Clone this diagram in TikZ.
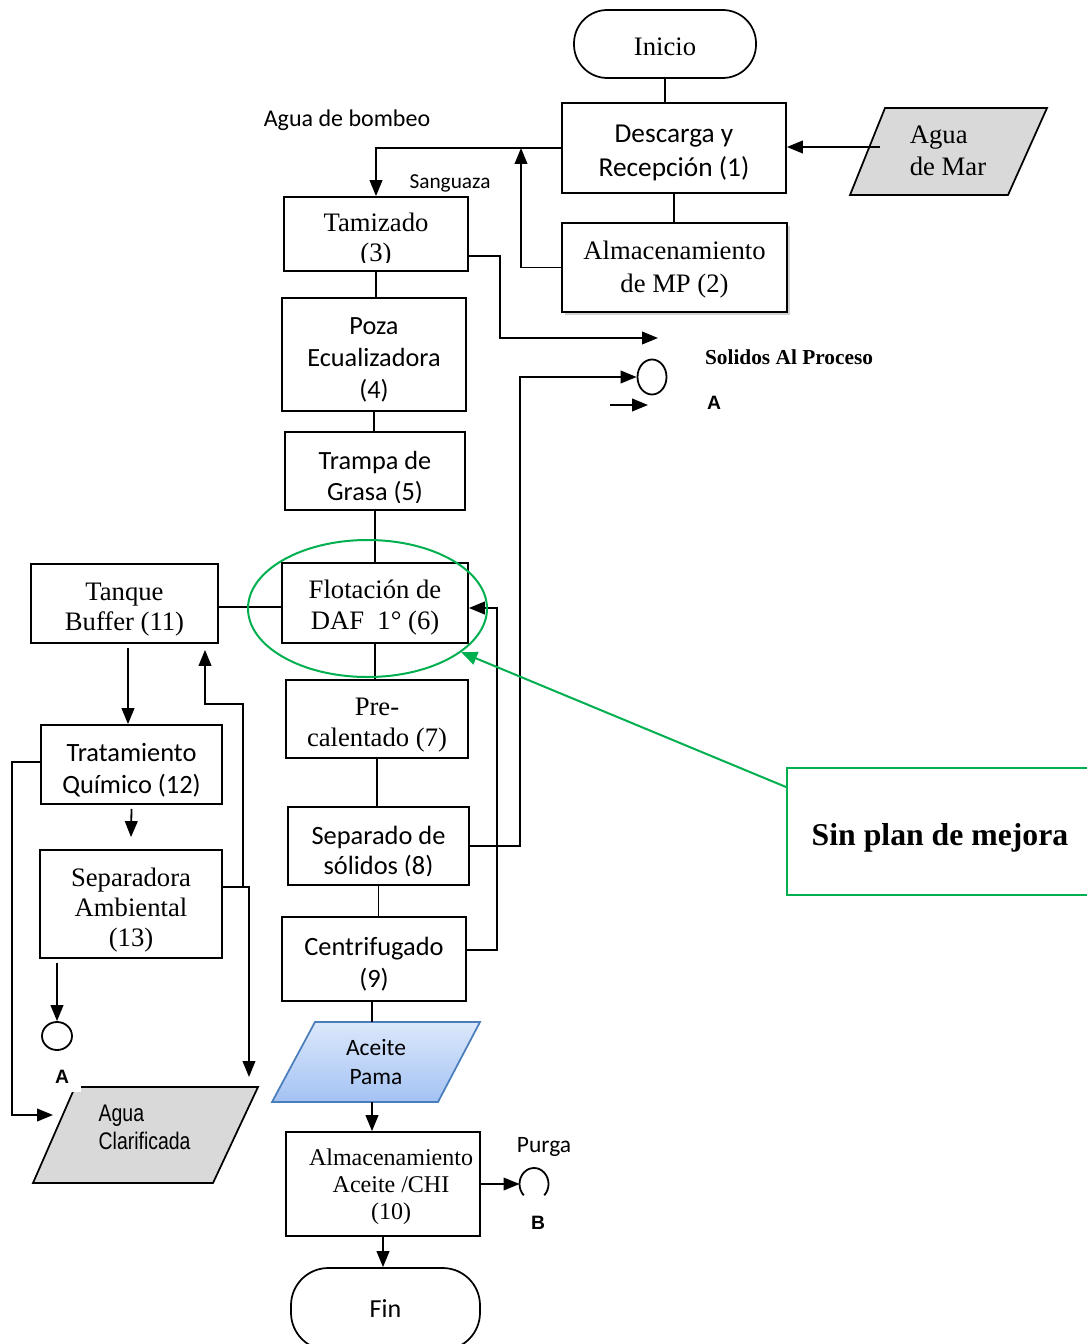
\documentclass[tikz,border=0pt]{standalone}
\usepackage{fontspec}
\setmainfont{Liberation Serif}
\newfontfamily\calfam{Carlito}
\newfontfamily\arifam{Liberation Sans}
\newfontfamily\narfam[FakeStretch=0.81]{Liberation Sans}
\usetikzlibrary{arrows.meta,shapes.geometric,calc,shadows}

\definecolor{grayfill}{HTML}{D9D9D9}
\definecolor{mkgreen}{HTML}{00B050}
\definecolor{pamaTop}{HTML}{DCE8FB}
\definecolor{pamaBot}{HTML}{A3C2F3}
\definecolor{pamaEdge}{HTML}{4A7EBB}

% invisible strut that lowers the text block inside its box
\newcommand{\lft}[1]{\rule{0pt}{#1}}

\tikzset{
  sz/.style 2 args={minimum width=#1*0.75pt, minimum height=#2*0.75pt},
  box/.style={draw, line width=1.3pt, inner sep=0pt, align=center},
  conn/.style={line width=1.35pt},
  arr/.style={conn, -{Triangle[length=12pt,width=9.5pt]}},
  lblA/.style={font={\arifam\bfseries\fontsize{14.5}{16}\selectfont}},
  greenln/.style={draw=mkgreen, line width=1.5pt}
}

\begin{document}
\begin{tikzpicture}[x=0.75pt,y=-0.75pt]
\fill[white] (0,0) rectangle (1086,1344);
\useasboundingbox (0,0) rectangle (1086,1344);

% ---------- main column ----------
\node[box,sz={182}{68},rounded corners=25pt,font={\fontsize{20}{23}\selectfont}] (inicio) at (665,44) {\lft{17.7pt}Inicio};
\node[box,sz={224}{90},font={\calfam\fontsize{20.5}{26}\selectfont}] (desc) at (674,148) {\lft{20.5pt}Descarga y\\Recepción (1)};
\node[box,sz={225}{89},font={\fontsize{20}{24.5}\selectfont},fill=white,
      drop shadow={shadow xshift=2pt,shadow yshift=-2pt,opacity=0.35}] (almmp) at (674.5,267.5) {\lft{16.6pt}Almacenamiento\\de MP (2)};

% sea water input
\path[draw, fill=grayfill, line width=1.3pt] (850,195) -- (885,108) -- (1047,108) -- (1008,195) -- cycle;
\node[align=left,font={\fontsize{20}{24}\selectfont}] (aguamar) at (948,151) {Agua\\de Mar};
\coordinate (amin) at (880,147);

\node[font={\calfam\fontsize{18}{20}\selectfont}] (bombeo) at (347,120) {Agua de bombeo};
\node[font={\calfam\fontsize{16}{18}\selectfont}] (sang) at (450,183) {Sanguaza};

\node[box,sz={184}{74},font={\fontsize{20}{22.5}\selectfont}] (tam) at (376,234) {\lft{23.3pt}Tamizado\\(3)};
\fill[white] ($(tam.south west)+(1.5,-1.5)$) rectangle ($(tam.south east)+(-1.5,-9)$);
\node[box,sz={184}{113},font={\calfam\fontsize{19.7}{24}\selectfont}] (poza) at (374,354.5) {\lft{20pt}Poza\\Ecualizadora\\(4)};
\node[box,sz={180}{78},font={\calfam\fontsize{19.7}{23.5}\selectfont}] (trampa) at (375,471) {\lft{23.5pt}Trampa de\\Grasa (5)};
\fill[white] ($(trampa.south west)+(1.5,-1.5)$) rectangle ($(trampa.south east)+(-1.5,-8)$);
\node[box,sz={186}{80},font={\fontsize{20}{23}\selectfont}] (flot) at (375,603) {\lft{21.1pt}Flotación de\\DAF\ \ 1° (6)};
\node[box,sz={182}{78},font={\fontsize{20}{23}\selectfont}] (pre) at (377,719) {\lft{22.2pt}Pre-\\calentado (7)};
\node[box,sz={181}{78},font={\calfam\fontsize{19.8}{23}\selectfont}] (sep) at (378.5,846) {\lft{22.8pt}Separado de\\sólidos (8)};
\fill[white] ($(sep.south west)+(1.5,-1.5)$) rectangle ($(sep.south east)+(-1.5,-10)$);
\node[box,sz={184}{84},font={\calfam\fontsize{19.8}{24.5}\selectfont}] (cent) at (374,959) {\lft{21.5pt}Centrifugado\\(9)};

% palm oil output
\path[draw=pamaEdge, top color=pamaTop, bottom color=pamaBot, line width=1.3pt]
  (315,1022) -- (480,1022) -- (438,1102) -- (272,1102) -- cycle;
\node[align=center,font={\calfam\fontsize{17.6}{21.5}\selectfont}] (aceite) at (376,1062) {Aceite\\Pama};
\coordinate (acTop) at (372,1022);
\coordinate (acBot) at (372,1102);

\node[box,sz={194}{104},font={\fontsize{18}{20.5}\selectfont}] (alm10) at (383,1184) {\lft{16.7pt}\hspace*{12pt}Almacenamiento\\\hspace*{12pt}Aceite /CHI\\\hspace*{12pt}(10)};
\node[box,sz={189}{82},rounded corners=28pt,font={\calfam\fontsize{19.5}{22}\selectfont}] (fin) at (385.5,1309) {Fin};

% purge
\coordinate (cB) at (534,1184);
\draw[conn] ($(cB)+(-10.25,11.3)$) arc[start angle=135, end angle=405, x radius=14.5, y radius=16];
\node[font={\calfam\fontsize{17.6}{20}\selectfont}] (purga) at (544,1147) {Purga};
\node[lblA] (labB) at (538,1223) {B};

% solids connector
\node[draw, ellipse, conn, sz={29}{35}, inner sep=0pt] (cA1) at (652,377) {};
\node[font={\bfseries\fontsize{16}{18}\selectfont}] (solidos) at (789,357) {Solidos Al Proceso};
\coordinate (sA0) at (610,405);
\coordinate (sA1) at (648,405);
\node[lblA] (labA1) at (714,403) {A};

% ---------- left column ----------
\node[box,sz={187}{79},font={\fontsize{20}{23}\selectfont}] (tanque) at (124.5,603.5) {\lft{22.2pt}Tanque\\Buffer (11)};
\node[box,sz={181}{79},font={\calfam\fontsize{19.8}{24}\selectfont}] (trat) at (131.5,764.5) {\lft{21.5pt}Tratamiento\\Químico (12)};
\node[box,sz={182}{108},font={\fontsize{20}{22.5}\selectfont}] (sepamb) at (131,904) {\lft{22.6pt}Separadora\\Ambiental\\(13)};
\node[draw, ellipse, conn, sz={30}{28}, inner sep=0pt] (cA2) at (57,1036) {};

\path[draw, fill=grayfill, line width=1.3pt] (75,1087) -- (258,1087) -- (213,1183) -- (33,1183) -- cycle;
\node[align=left, anchor=west, font={\narfam\fontsize{18}{21}\selectfont}] (clar) at (94,1127) {Agua\\Clarificada};
\node[lblA, fill=white, sz={38}{30}, inner sep=0pt] (labA2) at (62,1077) {A};

% ---------- connectors ----------
\draw[conn] (inicio.south) -- (inicio.south |- desc.north);
\draw[conn] (desc.south) -- (desc.south |- almmp.north);
\draw[arr] (amin) -- (amin -| desc.east);
\draw[arr] (desc.west) -| (tam.north);
\coordinate (j1) at (521,148);
\draw[arr] (almmp.west) -| (j1);

\coordinate (t1) at (500,256);
\coordinate (t2) at (500,338);
\coordinate (sol) at (658,338);
\draw[arr] (tam.east |- t1) -- (t1) -- (t2) -- (sol);

\draw[conn] (tam.south) -- (tam.south |- poza.north);
\draw[conn] (poza.south) -- (poza.south |- trampa.north);
\draw[conn] (trampa.south) -- (trampa.south |- flot.north);
\draw[conn] (flot.south) -- (flot.south |- pre.north);
\draw[conn] (pre.south) -- (pre.south |- sep.north);
\draw[conn] (sep.south) -- (sep.south |- cent.north);
\draw[conn] (acTop |- cent.south) -- (acTop);
\draw[arr] (acBot) -- (acBot |- alm10.north);
\draw[arr] (alm10.south) -- (alm10.south |- fin.north);
\draw[arr] (alm10.east) -- ($(cB)+(-14.5,0)$);

\coordinate (r1) at (520,377);
\draw[arr] (sep.east) -| (r1) -- (cA1.west);
\draw[arr] (sA0) -- (sA1);
\coordinate (r3) at (497,950);
\coordinate (r2) at (497,608);
\draw[arr] (cent.east |- r3) -- (r3) -- (r2) -- (flot.east |- r2);

\coordinate (tb) at (250,607);
\draw[conn] (tanque.east |- tb) -- (flot.west |- tb);
\coordinate (tq) at ($(tanque.south)+(3.5,4)$);
\draw[arr] (tq) -- (tq |- trat.north);
\draw[arr] ($(trat.south)+(0,4)$) -- ($(sepamb.north)+(0,-12)$);
\draw[arr] ($(cA2.north |- sepamb.south)+(0,4)$) -- (cA2.north);

\coordinate (k1) at (243,887);
\coordinate (k2) at (243,704);
\coordinate (k3) at (205,704);
\coordinate (k4) at (249,887);
\coordinate (k5) at (249,1077);
\draw[arr] (sepamb.east |- k1) -- (k1) -- (k2) -- (k3) -- ($(k3 |- tanque.south)+(0,6)$);
\draw[arr] (k1) -- (k4) -- (k5);

\coordinate (m1) at (12,762);
\coordinate (m2) at (12,1115);
\coordinate (m3) at (53,1115);
\draw[arr] (trat.west |- m1) -- (m1) -- (m2) -- (m3);

% ---------- highlight ----------
\node[greenln, ellipse, sz={239}{137}, inner sep=0pt] (ring) at (367.5,608.5) {};
\node[greenln, sz={306}{127}, font={\bfseries\fontsize{23.8}{28}\selectfont}] (sinplan) at (940,831.5) {\lft{26.7pt}Sin plan de mejora};
\draw[greenln, -{Triangle[length=12pt,width=10pt]}] ($(sinplan.north west)+(0,20)$) -- (ring.-25);
\end{tikzpicture}
\end{document}
